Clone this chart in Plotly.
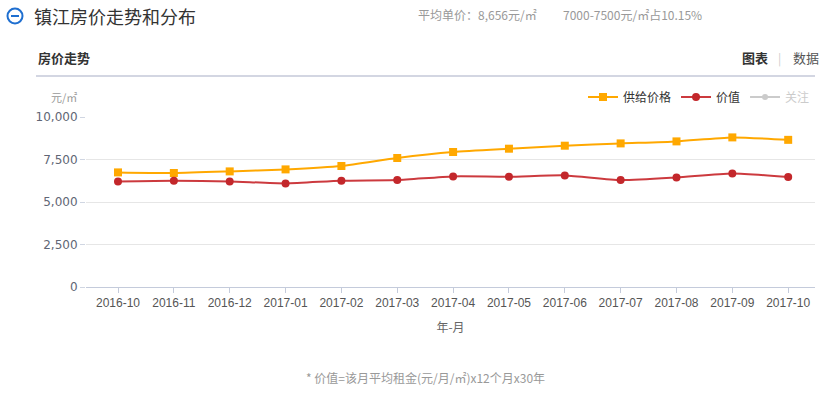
import plotly.graph_objects as go

months = ["2016-10", "2016-11", "2016-12", "2017-01", "2017-02", "2017-03", "2017-04",
          "2017-05", "2017-06", "2017-07", "2017-08", "2017-09", "2017-10"]
supply_price = [6741, 6706, 6800, 6918, 7118, 7588, 7941, 8135, 8312, 8447, 8565, 8800, 8656]
value_price = [6212, 6253, 6212, 6094, 6253, 6292, 6506, 6488, 6565, 6292, 6447, 6682, 6468]
attention = [0]
y_ticks = [0, 2500, 5000, 7500, 10000]

W, H = 837, 394
L, R, T, B = 86, 815, 117, 287

def px(x):
    return (x - L) / (R - L)

def py(y):
    return (B - y) / (B - T)

CJK = "Noto Sans CJK SC, Microsoft YaHei, sans-serif"

fig = go.Figure()
fig.add_trace(go.Scatter(
    x=months, y=supply_price, name="供给价格", mode="lines+markers",
    line=dict(color="#ffa800", width=2, shape="spline", smoothing=0.6),
    marker=dict(symbol="square", size=8, color="#ffa800"),
))
fig.add_trace(go.Scatter(
    x=months, y=value_price, name="价值", mode="lines+markers",
    line=dict(color="#cc3a3e", width=2, shape="spline", smoothing=0.6),
    marker=dict(symbol="circle", size=8, color="#c3272b"),
))
fig.add_trace(go.Scatter(
    x=months[:1], y=attention, name="<span style='color:#999'>关注</span>", mode="lines+markers",
    visible="legendonly",
    line=dict(color="#999", width=2),
    marker=dict(symbol="circle", size=6, color="#999"),
))

fig.update_layout(
    width=W, height=H,
    margin=dict(l=L, r=W - R, t=T, b=H - B, pad=0),
    paper_bgcolor="white", plot_bgcolor="white",
    font=dict(family=CJK, size=12, color="#333"),
    showlegend=True,
    legend=dict(orientation="h", x=1.0, xanchor="right", y=py(97), yanchor="middle",
                font=dict(family=CJK, size=12, color="#333"),
                itemwidth=30, tracegroupgap=0, bgcolor="rgba(0,0,0,0)"),
    xaxis=dict(
        type="category", range=[-0.573, 12.48],
        showgrid=False, showline=True, linecolor="#c4cbdb", linewidth=1,
        ticks="outside", ticklen=5, tickcolor="#c4cbdb",
        tickfont=dict(family="Liberation Sans, Arial", size=12, color="#555"),
        title=dict(text="年-月", font=dict(family=CJK, size=12, color="#666"), standoff=14),
        fixedrange=True,
    ),
    yaxis=dict(
        range=[0, 10000], tickvals=y_ticks, tickformat=",d",
        showgrid=True, gridcolor="#e6e6e6", gridwidth=1,
        zeroline=False, showline=False,
        ticks="outside", ticklen=5, tickcolor="#d0d6e2",
        tickfont=dict(family="DejaVu Sans", size=12, color="#5f6675"),
        fixedrange=True,
    ),
)

shapes = [
    dict(type="line", xref="paper", yref="paper", x0=px(36), x1=px(815), y0=py(76), y1=py(76),
         line=dict(color="#d3d6e2", width=2)),
    dict(type="circle", xref="paper", yref="paper", x0=px(7.5), x1=px(22.5), y0=py(8.5), y1=py(23.5),
         line=dict(color="#1f6fd0", width=2)),
    dict(type="line", xref="paper", yref="paper", x0=px(11), x1=px(19), y0=py(16), y1=py(16),
         line=dict(color="#1f6fd0", width=2)),
]
fig.update_layout(shapes=shapes)

ann = [
    dict(text="镇江房价走势和分布", x=px(32), y=py(16), xanchor="left", yanchor="middle",
         font=dict(family=CJK, size=18, color="#333")),
    dict(text="平均单价：8,656元/㎡", x=px(416), y=py(15), xanchor="left", yanchor="middle",
         font=dict(family=CJK, size=12, color="#999")),
    dict(text="7000-7500元/㎡占10.15%", x=px(561), y=py(15), xanchor="left", yanchor="middle",
         font=dict(family=CJK, size=12, color="#999")),
    dict(text="<b>房价走势</b>", x=px(36), y=py(58), xanchor="left", yanchor="middle",
         font=dict(family=CJK, size=13, color="#333")),
    dict(text="<b>图表</b>", x=px(740), y=py(58), xanchor="left", yanchor="middle",
         font=dict(family=CJK, size=13, color="#333")),
    dict(text="|", x=px(779), y=py(58), xanchor="center", yanchor="middle",
         font=dict(family=CJK, size=12, color="#ccc")),
    dict(text="数据", x=px(791), y=py(58), xanchor="left", yanchor="middle",
         font=dict(family=CJK, size=13, color="#555")),
    dict(text="元/㎡", x=px(79), y=py(97), xanchor="right", yanchor="middle",
         font=dict(family=CJK, size=11, color="#999")),
    dict(text="* 价值=该月平均租金(元/月/㎡)x12个月x30年", x=px(425), y=py(377),
         xanchor="center", yanchor="middle",
         font=dict(family=CJK, size=12, color="#999")),
]
for a in ann:
    a.update(xref="paper", yref="paper", showarrow=False)
fig.update_layout(annotations=ann)

fig.write_html("out.html", config={"displayModeBar": False},
               post_script="document.body.style.margin='0';document.body.style.padding='0';")
